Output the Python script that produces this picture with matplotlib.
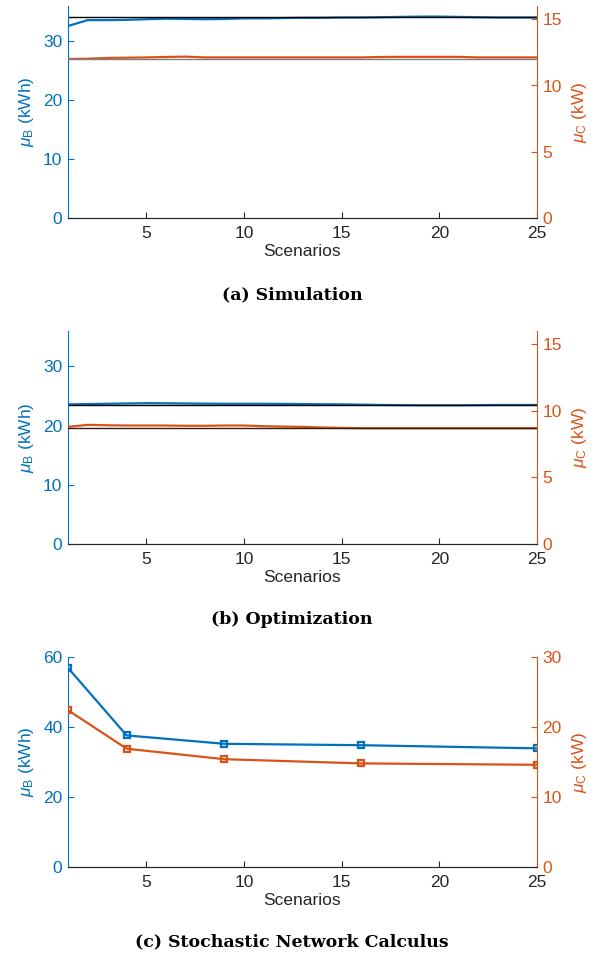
import matplotlib
matplotlib.use("Agg")
import matplotlib.pyplot as plt

plt.rcParams['font.family'] = ['Liberation Sans', 'DejaVu Sans']
plt.rcParams['mathtext.fontset'] = 'custom'
plt.rcParams['mathtext.rm'] = 'Liberation Sans'
plt.rcParams['mathtext.it'] = 'Liberation Sans:italic'

# colores tipo MATLAB
AZUL = '#0072BD'
NARANJA = '#D95319'
GRIS_EJE = '#262626'

# -----------------------------------
# DATOS
# -----------------------------------
escenarios = list(range(1, 26))

# (a) simulacion
sim_B = [32.6, 33.6, 33.6, 33.65, 33.75, 33.85, 33.8, 33.75, 33.8, 33.9,
         33.9, 33.95, 34.0, 34.0, 34.05, 34.05, 34.1, 34.15, 34.2, 34.2,
         34.15, 34.1, 34.05, 34.05, 34.05]
sim_C = [12.0, 12.02, 12.08, 12.1, 12.12, 12.15, 12.18, 12.12, 12.12, 12.12,
         12.12, 12.12, 12.12, 12.12, 12.12, 12.12, 12.15, 12.16, 12.16, 12.16,
         12.16, 12.12, 12.12, 12.12, 12.12]
sim_B_ref = 34.05
sim_C_ref = 12.0

# (b) optimizacion
opt_B = [23.6, 23.65, 23.7, 23.75, 23.8, 23.78, 23.75, 23.72, 23.7, 23.7,
         23.7, 23.68, 23.65, 23.62, 23.6, 23.55, 23.5, 23.47, 23.45, 23.45,
         23.45, 23.47, 23.5, 23.5, 23.5]
opt_C = [8.8, 8.95, 8.92, 8.9, 8.9, 8.9, 8.88, 8.88, 8.9, 8.9,
         8.85, 8.82, 8.8, 8.75, 8.72, 8.7, 8.7, 8.7, 8.7, 8.7,
         8.7, 8.7, 8.7, 8.7, 8.7]
opt_B_ref = 23.55
opt_C_ref = 8.7

# (c) stochastic network calculus
snc_x = [1, 4, 9, 16, 25]
snc_B = [56.9, 37.6, 35.2, 34.8, 33.9]
snc_C = [22.4, 16.9, 15.4, 14.8, 14.6]

ticks_x = [5, 10, 15, 20, 25]

# -----------------------------------
# FIGURA
# -----------------------------------
fig = plt.figure(figsize=(6.03, 9.55), dpi=100)

izq = 68 / 603
ancho = (537 - 68) / 603
cajas = [
    (1 - 218 / 955, 212 / 955),
    (1 - 544 / 955, 213 / 955),
    (1 - 867 / 955, 210 / 955),
]


def preparar(ax, ax2, ylim_B, yt_B, ylim_C, yt_C):
    ax.set_xlim(1, 25)
    ax.set_xticks(ticks_x)
    ax.set_ylim(*ylim_B)
    ax.set_yticks(yt_B)
    ax2.set_ylim(*ylim_C)
    ax2.set_yticks(yt_C)

    for a in (ax, ax2):
        a.spines['top'].set_visible(False)
        a.spines['bottom'].set_color(GRIS_EJE)
    ax.spines['right'].set_visible(False)
    ax2.spines['left'].set_visible(False)
    ax.spines['left'].set_color(AZUL)
    ax2.spines['right'].set_color(NARANJA)

    ax.tick_params(axis='x', direction='in', colors=GRIS_EJE, labelsize=12.5, length=4, pad=6)
    ax.tick_params(axis='y', direction='in', colors=AZUL, labelsize=12.5, length=4, pad=4)
    ax2.tick_params(axis='y', direction='in', colors=NARANJA, labelsize=12.5, length=4, pad=4)

    ax.set_xlabel('Scenarios', fontsize=12.5, color=GRIS_EJE, labelpad=2)
    ax.set_ylabel(r'$\mu_\mathrm{B}$ (kWh)', fontsize=12.5, color=AZUL, labelpad=5)
    ax2.set_ylabel(r'$\mu_\mathrm{C}$ (kW)', fontsize=12.5, color=NARANJA, labelpad=6)


# -----------------------------------
# (a) SIMULATION
# -----------------------------------
ax = fig.add_axes([izq, cajas[0][0], ancho, cajas[0][1]])
ax2 = ax.twinx()
ax.plot(escenarios, sim_B, color=AZUL, lw=1.6)
ax.axhline(sim_B_ref, color='black', lw=1.0)
ax2.plot(escenarios, sim_C, color=NARANJA, lw=1.6)
ax2.axhline(sim_C_ref, color='#7f7f7f', lw=1.0)
preparar(ax, ax2, (0, 36), [0, 10, 20, 30], (0, 16), [0, 5, 10, 15])

# -----------------------------------
# (b) OPTIMIZATION
# -----------------------------------
ax = fig.add_axes([izq, cajas[1][0], ancho, cajas[1][1]])
ax2 = ax.twinx()
ax.plot(escenarios, opt_B, color=AZUL, lw=1.6)
ax.axhline(opt_B_ref, color='black', lw=1.0)
ax2.plot(escenarios, opt_C, color=NARANJA, lw=1.6)
ax2.axhline(opt_C_ref, color='#3a1a10', lw=1.0)
preparar(ax, ax2, (0, 36), [0, 10, 20, 30], (0, 16), [0, 5, 10, 15])

# -----------------------------------
# (c) STOCHASTIC NETWORK CALCULUS
# -----------------------------------
ax = fig.add_axes([izq, cajas[2][0], ancho, cajas[2][1]])
ax2 = ax.twinx()
ax.plot(snc_x, snc_B, color=AZUL, lw=1.6, marker='s', ms=5, mfc='none', mew=1.6)
ax2.plot(snc_x, snc_C, color=NARANJA, lw=1.6, marker='s', ms=5, mfc='none', mew=1.6)
preparar(ax, ax2, (0, 60), [0, 20, 40, 60], (0, 30), [0, 10, 20, 30])

# -----------------------------------
# SUBTITULOS
# -----------------------------------
cap = dict(ha='center', va='center', fontsize=12.5, fontweight='bold',
           family=['DejaVu Serif'])
fig.text(0.484, 1 - 295 / 955, '(a) Simulation', **cap)
fig.text(0.484, 1 - 619 / 955, '(b) Optimization', **cap)
fig.text(0.484, 1 - 942 / 955, '(c) Stochastic Network Calculus', **cap)

plt.savefig('out.png', dpi=100)
plt.close()
